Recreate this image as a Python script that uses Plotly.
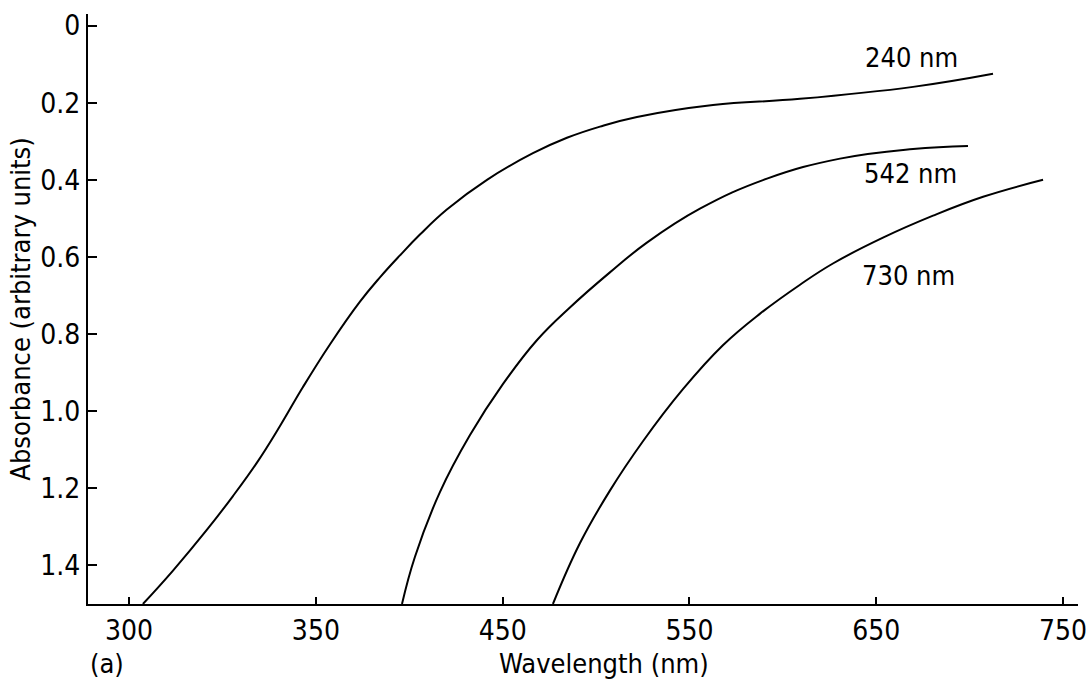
import plotly.graph_objects as go

# Axis coordinate (nm) along the x axis, absorbance values (arbitrary units)
x_240 = [257.4, 273.4, 291.6, 305.6, 318.9, 330.7, 343.0, 357.5, 373.6, 384.3, 395.0,
         405.7, 420.1, 441.6, 466.2, 484.4, 502.1, 521.9, 562.6, 609.2, 669.7, 712.5]
y_240 = [1.500, 1.414, 1.308, 1.220, 1.130, 1.039, 0.938, 0.827, 0.716, 0.653, 0.596,
         0.542, 0.477, 0.400, 0.331, 0.291, 0.262, 0.237, 0.206, 0.190, 0.159, 0.125]

x_542 = [396.1, 403.0, 416.4, 432.5, 450.1, 468.3, 486.0, 507.4, 527.2, 555.6, 591.5,
         630.6, 669.7, 699.1]
y_542 = [1.500, 1.378, 1.210, 1.062, 0.930, 0.816, 0.731, 0.640, 0.563, 0.475, 0.397,
         0.345, 0.320, 0.312]

x_730 = [476.9, 491.4, 507.4, 525.1, 546.5, 567.9, 587.8, 609.2, 626.8, 653.6, 680.4,
         707.2, 739.3]
y_730 = [1.500, 1.342, 1.206, 1.078, 0.943, 0.829, 0.747, 0.672, 0.617, 0.550, 0.493,
         0.444, 0.400]

curve_labels = ["240 nm", "542 nm", "730 nm"]
label_x = [669.1, 668.1, 667.5]
label_y = [0.084, 0.384, 0.648]

x_tickvals = [250, 350, 450, 550, 650, 750]
x_ticktext = ["300", "350", "450", "550", "650", "750"]
y_tickvals = [0, 0.2, 0.4, 0.6, 0.8, 1.0, 1.2, 1.4]
y_ticktext = ["0", "0.2", "0.4", "0.6", "0.8", "1.0", "1.2", "1.4"]

FONT = "DejaVu Sans Condensed, Liberation Sans Narrow, DejaVu Sans, sans-serif"

W, H = 1089, 685
L, R, T, B = 88, 11, 14, 81
plot_w = W - L - R
plot_h = H - T - B
title_row_y = 663  # pixels from top

fig = go.Figure()
for xs, ys in [(x_240, y_240), (x_542, y_542), (x_730, y_730)]:
    fig.add_trace(go.Scatter(x=xs, y=ys, mode="lines",
                             line=dict(color="black", width=2, shape="spline", smoothing=1.2),
                             showlegend=False, hoverinfo="skip"))

for t, lx, ly in zip(curve_labels, label_x, label_y):
    fig.add_annotation(x=lx, y=ly, text=t, showarrow=False, xref="x", yref="y",
                       font=dict(family=FONT, size=27, color="black"))

fig.add_annotation(x=(604 - L) / plot_w, y=-(title_row_y - (H - B)) / plot_h,
                   xref="paper", yref="paper", text="Wavelength (nm)", showarrow=False,
                   yanchor="middle", font=dict(family=FONT, size=27, color="black"))
fig.add_annotation(x=0.0, y=-(title_row_y - (H - B)) / plot_h, xref="paper", yref="paper",
                   text="(a)", showarrow=False, yanchor="middle",
                   font=dict(family=FONT, size=27, color="black"))

fig.update_layout(
    width=W, height=H,
    margin=dict(l=L, r=R, t=T, b=B),
    paper_bgcolor="white", plot_bgcolor="white",
    font=dict(family=FONT, size=27, color="black"),
    xaxis=dict(range=[228, 758], tickvals=x_tickvals, ticktext=x_ticktext,
               ticks="inside", ticklen=7, tickwidth=2, tickcolor="black",
               showline=True, linecolor="black", linewidth=2, showgrid=False,
               zeroline=False, tickfont=dict(size=28), automargin=False),
    yaxis=dict(range=[1.5, -0.03], tickvals=y_tickvals, ticktext=y_ticktext,
               ticks="inside", ticklen=9, tickwidth=2, tickcolor="black",
               showline=True, linecolor="black", linewidth=2, showgrid=False,
               zeroline=False, tickfont=dict(size=28), automargin=False,
               title=dict(text="Absorbance (arbitrary units)", font=dict(size=27), standoff=2)),
)

fig.write_html("out.html",
               config={"displayModeBar": False},
               post_script="document.body.style.margin='0';document.body.style.overflow='hidden';")
